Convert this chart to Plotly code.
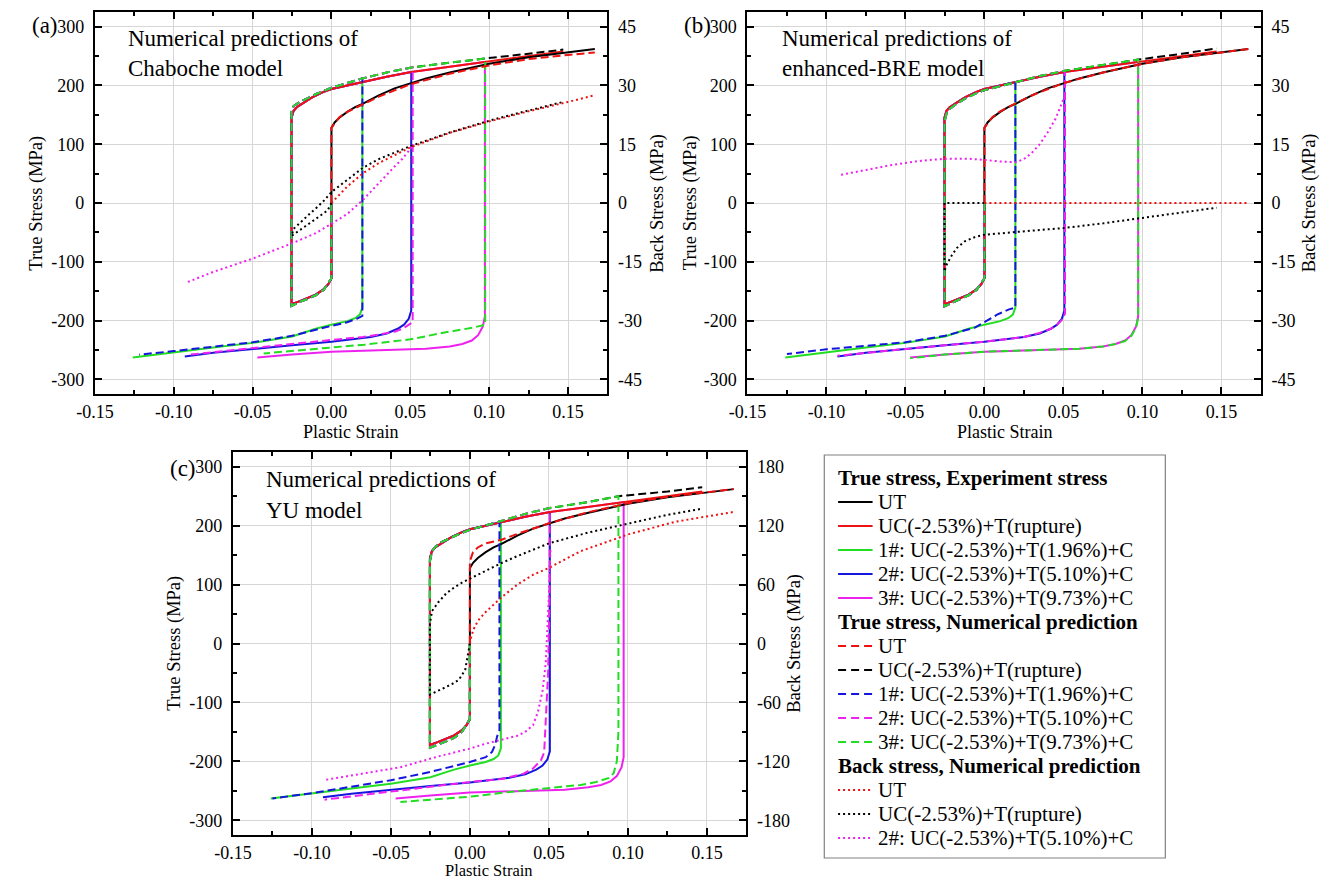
import plotly.graph_objects as go

W, H = 1325, 880
FONT = "Liberation Serif"
RED, GREEN, BLUE, MAGENTA, BLACK = "#ee1111", "#22dd22", "#1515dd", "#ee22ee", "#000000"
DASH, DOT = "8px,4px", "2px,3px"

# ---------------- axis ticks ----------------
X_TICKS = [-0.15, -0.10, -0.05, 0.00, 0.05, 0.10, 0.15]
X_TICK_TEXT = ["-0.15", "-0.10", "-0.05", "0.00", "0.05", "0.10", "0.15"]
X_MINOR = [-0.125, -0.075, -0.025, 0.025, 0.075, 0.125, 0.175]
Y_TICKS = [-300, -200, -100, 0, 100, 200, 300]
Y_TICK_TEXT = ["-300", "-200", "-100", "0", "100", "200", "300"]
Y_MINOR = [-250, -150, -50, 50, 150, 250]
YB_TICKS = [-45, -30, -15, 0, 15, 30, 45]
YB_TICK_TEXT = ["-45", "-30", "-15", "0", "15", "30", "45"]
YB_MINOR = [-37.5, -22.5, -7.5, 7.5, 22.5, 37.5]
YC_TICKS = [-180, -120, -60, 0, 60, 120, 180]
YC_TICK_TEXT = ["-180", "-120", "-60", "0", "60", "120", "180"]
YC_MINOR = [-150, -90, -30, 30, 90, 150]

# ---------------- experiments (same in every panel) ----------------
EXP_UT_X = [0, 0, 0.002, 0.005, 0.01, 0.015, 0.02, 0.03, 0.04, 0.05, 0.06, 0.075, 0.1, 0.125, 0.15, 0.167]
EXP_UT_Y = [0, 128, 137, 145, 155, 163, 169, 183, 195, 204, 212, 222, 237, 248, 256, 262]
EXP_C_X = [0, 0, -0.002, -0.005, -0.01, -0.015, -0.02, -0.0253]
EXP_C_Y = [0, -128, -138, -147, -156, -162, -167, -172]
EXP_T_X = [-0.0253, -0.024, -0.022, -0.018, -0.012, -0.005, 0.0, 0.01, 0.0196, 0.035, 0.0506, 0.075, 0.0973, 0.125, 0.147]
EXP_T_Y = [145, 157, 163, 170, 180, 189, 194, 200, 206, 215, 223, 232, 240, 250, 258]
EXP_R1_X = [0.0196, 0.018, 0.015, 0.01, 0.0, -0.01, -0.025, -0.05, -0.075, -0.1, -0.126]
EXP_R1_Y = [-178, -190, -196, -201, -207, -214, -227, -238, -246, -254, -263]
EXP_R2_X = [0.0506, 0.049, 0.046, 0.042, 0.035, 0.025, 0.01, 0.0, -0.025, -0.05, -0.075, -0.093]
EXP_R2_Y = [-183, -197, -207, -214, -222, -228, -233, -236, -242, -248, -255, -261]
EXP_R3_X = [0.0973, 0.096, 0.093, 0.089, 0.083, 0.075, 0.06, 0.04, 0.0, -0.025, -0.047]
EXP_R3_Y = [-193, -210, -225, -234, -240, -244, -248, -250, -253, -258, -263]

# ---------------- (a) Chaboche predictions ----------------
A_UT_X = [0, 0, 0.005, 0.01, 0.02, 0.03, 0.05, 0.075, 0.1, 0.125, 0.15, 0.167]
A_UT_Y = [0, 128, 146, 155, 168, 181, 202, 220, 234, 245, 252, 256]
A_C_X = [0, 0, -0.005, -0.01, -0.015, -0.02, -0.0253]
A_C_Y = [0, -128, -148, -157, -163, -168, -175]
A_T_X = [-0.0253, -0.024, -0.02, -0.01, 0.0, 0.0196, 0.035, 0.0515, 0.075, 0.0975, 0.125, 0.147]
A_T_Y = [155, 165, 172, 185, 196, 212, 222, 231, 239, 246, 254, 261]
A_R1_X = [0.0196, 0.016, 0.01, 0.0, -0.025, -0.05, -0.075, -0.1, -0.122]
A_R1_Y = [-192, -197, -203, -209, -226, -237, -245, -252, -258]
A_R2_X = [0.0515, 0.045, 0.04, 0.03, 0.02, 0.0, -0.025, -0.05, -0.075, -0.09]
A_R2_Y = [-203, -214, -219, -224, -228, -233, -240, -246, -253, -258]
A_R3_X = [0.0975, 0.09, 0.0725, 0.05, 0.021, 0.0, -0.011, -0.043]
A_R3_Y = [-207, -212, -220, -232, -241, -246, -249, -256]
A_BK_UT_X = [0, 0.005, 0.01, 0.02, 0.03, 0.05, 0.075, 0.1, 0.125, 0.15, 0.167]
A_BK_UT_Y = [0, 2.2, 4.2, 7.6, 10.2, 14.2, 17.9, 20.8, 23.4, 25.8, 27.5]
A_BK_UC_X = [0, -0.0025, -0.0125, -0.0253, -0.024, -0.02, -0.015, -0.01, -0.005, 0.0, 0.01, 0.02, 0.03, 0.05, 0.075, 0.1, 0.125, 0.147]
A_BK_UC_Y = [0, -1.9, -4.8, -8.4, -6.6, -5.0, -3.2, -1.4, 0.5, 2.8, 6.0, 9.0, 11.2, 14.5, 18.0, 21.0, 23.6, 25.8]
A_BK_2_X = [0.051, 0.045, 0.04, 0.035, 0.03, 0.025, 0.02, 0.015, 0.01, 0.0, -0.01, -0.025, -0.05, -0.075, -0.092]
A_BK_2_Y = [14.3, 11.3, 9.3, 7.2, 5.0, 2.9, 0.8, -1.0, -2.8, -5.3, -7.7, -10.3, -14.2, -17.6, -20.3]

# ---------------- (b) enhanced-BRE predictions ----------------
B_UT_X = [0, 0, 0.005, 0.01, 0.02, 0.03, 0.05, 0.075, 0.1, 0.125, 0.15, 0.167]
B_UT_Y = [0, 128, 146, 156, 170, 183, 204, 222, 237, 248, 256, 262]
B_C_X = [0, 0, -0.005, -0.01, -0.015, -0.02, -0.0253]
B_C_Y = [0, -128, -148, -157, -163, -169, -176]
B_T_X = [-0.0253, -0.024, -0.022, -0.018, -0.012, -0.005, 0.0, 0.0196, 0.035, 0.051, 0.075, 0.0973, 0.125, 0.147]
B_T_Y = [138, 152, 160, 168, 178, 187, 192, 206, 216, 225, 235, 244, 254, 263]
B_R1_X = [0.0196, 0.0156, 0.008, 0.0, -0.006, -0.025, -0.05, -0.075, -0.1, -0.125]
B_R1_Y = [-178, -181, -190, -202, -212, -226, -237, -243, -249, -257]
B_R2_X = [0.051, 0.049, 0.046, 0.042, 0.035, 0.025, 0.01, 0.0, -0.025, -0.05, -0.075, -0.093]
B_R2_Y = [-188, -199, -207, -214, -221, -228, -233, -236, -242, -248, -255, -260]
B_R3_X = [0.0973, 0.096, 0.093, 0.089, 0.083, 0.075, 0.06, 0.04, 0.0, -0.025, -0.047]
B_R3_Y = [-195, -212, -226, -235, -240, -244, -248, -250, -253, -258, -264]
B_BK_UT_X = [0, 0.05, 0.1, 0.167]
B_BK_UT_Y = [0, 0, 0, 0]
B_BK_UC_X = [0, -0.0253, -0.0253, -0.024, -0.021, -0.0175, -0.0125, -0.006, 0.0, 0.01, 0.02, 0.05, 0.075, 0.1, 0.125, 0.147]
B_BK_UC_Y = [0, 0, -17.5, -15.8, -13.6, -11.5, -9.8, -8.7, -8.1, -7.7, -7.4, -6.4, -5.2, -3.8, -2.4, -1.2]
B_BK_2_X = [0.051, 0.048, 0.045, 0.04, 0.035, 0.03, 0.025, 0.02, 0.01, 0.0, -0.01, -0.025, -0.04, -0.06, -0.08, -0.092]
B_BK_2_Y = [27.5, 24.5, 21.5, 18.0, 15.0, 12.8, 11.2, 10.4, 10.6, 11.0, 11.3, 11.3, 10.8, 9.6, 8.0, 7.1]

# ---------------- (c) YU predictions ----------------
C_UT_X = [0, 0, 0.002, 0.005, 0.01, 0.02, 0.03, 0.05, 0.075, 0.1, 0.125, 0.15, 0.167]
C_UT_Y = [0, 140, 155, 163, 170, 176, 186, 204, 223, 238, 249, 257, 262]
C_C_X = [0, 0, -0.005, -0.01, -0.015, -0.02, -0.0253]
C_C_Y = [0, -128, -150, -160, -166, -171, -177]
C_T_X = [-0.0253, -0.024, -0.022, -0.018, -0.01, 0.0, 0.0187, 0.035, 0.0505, 0.075, 0.094, 0.125, 0.147]
C_T_Y = [140, 156, 164, 172, 182, 193, 207, 220, 230, 240, 250, 258, 265]
C_R1_X = [0.0187, 0.0172, 0.016, 0.014, 0.01, 0.0, -0.025, -0.05, -0.075, -0.1, -0.125]
C_R1_Y = [-147, -158, -172, -184, -193, -201, -218, -232, -243, -254, -263]
C_R2_X = [0.0505, 0.0495, 0.048, 0.047, 0.045, 0.04, 0.034, 0.02, 0.0, -0.025, -0.05, -0.075, -0.092]
C_R2_Y = [100, -50, -150, -185, -198, -212, -221, -230, -235, -243, -251, -259, -265]
C_R3_X = [0.094, 0.093, 0.091, 0.088, 0.08, 0.07, 0.05, 0.025, 0.0, -0.025, -0.044]
C_R3_Y = [-150, -200, -220, -228, -235, -240, -245, -252, -260, -265, -269]
C_BK_UT_X = [0, 0.001, 0.003, 0.006, 0.01, 0.015, 0.02, 0.03, 0.04, 0.05, 0.07, 0.1, 0.13, 0.167]
C_BK_UT_Y = [0, 8, 17, 25, 32, 40, 47, 60, 70, 77, 94, 111, 124, 134]
C_BK_UC_X = [0, -0.001, -0.003, -0.007, -0.011, -0.016, -0.02, -0.0253, -0.0253, -0.024, -0.02, -0.015, -0.01, -0.005, 0.0, 0.01, 0.02, 0.03, 0.05, 0.075, 0.1, 0.125, 0.146]
C_BK_UC_Y = [0, -10, -27, -37, -41, -45, -48, -52, 20, 33, 42, 51, 57, 62, 66, 74, 82, 89, 102, 113, 122, 131, 137]
C_BK_2_X = [0.051, 0.0505, 0.05, 0.049, 0.048, 0.046, 0.043, 0.04, 0.035, 0.03, 0.02, 0.01, 0.0, -0.02, -0.044, -0.07, -0.092]
C_BK_2_Y = [95, 80, 50, 10, -20, -48, -70, -83, -90, -94, -98, -102, -107, -115, -126, -133, -139]

# ---------------- layout geometry (pixels) ----------------
PANELS = {
    "a": dict(x=(77, 597), y=(12, 394), xa="x", ya="y", yb="y2"),
    "b": dict(x=(739, 1260), y=(12, 394), xa="x2", ya="y3", yb="y4"),
    "c": dict(x=(217, 738), y=(452, 835), xa="x3", ya="y5", yb="y6"),
}


def px(v):
    return v / W


def py(v):
    return 1 - v / H


def path(cx, cy, tx, ty, xu, rx, ry):
    X, Y = list(cx), list(cy)
    for a, b in zip(tx, ty):
        if a <= xu + 1e-9:
            X.append(a)
            Y.append(b)
    return X + list(rx), Y + list(ry)


fig = go.Figure()


def add(x, y, color, dash, xa, ya, width=2.0):
    fig.add_trace(go.Scatter(x=x, y=y, mode="lines", showlegend=False, hoverinfo="skip",
                             line=dict(color=color, width=width, dash=dash),
                             xaxis=xa, yaxis=ya))


PRED = {
    "a": (A_UT_X, A_UT_Y, A_C_X, A_C_Y, A_T_X, A_T_Y, A_R1_X, A_R1_Y, A_R2_X, A_R2_Y, A_R3_X, A_R3_Y,
          A_BK_UT_X, A_BK_UT_Y, A_BK_UC_X, A_BK_UC_Y, A_BK_2_X, A_BK_2_Y),
    "b": (B_UT_X, B_UT_Y, B_C_X, B_C_Y, B_T_X, B_T_Y, B_R1_X, B_R1_Y, B_R2_X, B_R2_Y, B_R3_X, B_R3_Y,
          B_BK_UT_X, B_BK_UT_Y, B_BK_UC_X, B_BK_UC_Y, B_BK_2_X, B_BK_2_Y),
    "c": (C_UT_X, C_UT_Y, C_C_X, C_C_Y, C_T_X, C_T_Y, C_R1_X, C_R1_Y, C_R2_X, C_R2_Y, C_R3_X, C_R3_Y,
          C_BK_UT_X, C_BK_UT_Y, C_BK_UC_X, C_BK_UC_Y, C_BK_2_X, C_BK_2_Y),
}

for key, p in PANELS.items():
    xa, ya, yb = p["xa"], p["ya"], p["yb"]
    # experiments
    add(*path(EXP_C_X, EXP_C_Y, EXP_T_X, EXP_T_Y, EXP_R1_X[0], EXP_R1_X, EXP_R1_Y), GREEN, "solid", xa, ya)
    add(*path(EXP_C_X, EXP_C_Y, EXP_T_X, EXP_T_Y, EXP_R2_X[0], EXP_R2_X, EXP_R2_Y), BLUE, "solid", xa, ya)
    add(*path(EXP_C_X, EXP_C_Y, EXP_T_X, EXP_T_Y, EXP_R3_X[0], EXP_R3_X, EXP_R3_Y), MAGENTA, "solid", xa, ya)
    add(EXP_C_X + EXP_T_X, EXP_C_Y + EXP_T_Y, RED, "solid", xa, ya)
    add(EXP_UT_X, EXP_UT_Y, BLACK, "solid", xa, ya)
    (ux, uy, cx, cy, tx, ty, r1x, r1y, r2x, r2y, r3x, r3y,
     bux, buy, bcx, bcy, b2x, b2y) = PRED[key]
    # predictions
    add(cx + tx, cy + ty, BLACK, DASH, xa, ya)
    add(*path(cx, cy, tx, ty, r1x[0], r1x, r1y), BLUE, DASH, xa, ya)
    add(*path(cx, cy, tx, ty, r2x[0], r2x, r2y), MAGENTA, DASH, xa, ya)
    add(*path(cx, cy, tx, ty, r3x[0], r3x, r3y), GREEN, DASH, xa, ya)
    add(ux, uy, RED, DASH, xa, ya)
    # back stress
    add(bcx, bcy, BLACK, DOT, xa, yb, 2)
    add(bux, buy, RED, DOT, xa, yb, 2)
    add(b2x, b2y, MAGENTA, DOT, xa, yb, 2)

TICKFONT = dict(family=FONT, size=18, color="black")


def xaxis(dom, anchor):
    return dict(domain=dom, anchor=anchor, range=[-0.15, 0.175], tickmode="array",
                tickvals=X_TICKS, ticktext=X_TICK_TEXT, ticks="inside", ticklen=7, tickwidth=1.5,
                tickcolor="black", showline=True, linecolor="black", linewidth=2, mirror="ticks",
                showgrid=True, gridcolor="#d6d6d6", gridwidth=1, zeroline=False,
                minor=dict(ticks="inside", ticklen=4, tickwidth=1.5, tickcolor="black",
                           tickvals=X_MINOR, showgrid=False),
                tickfont=TICKFONT, ticklabelstandoff=0, fixedrange=True)


def yaxis(dom, anchor):
    return dict(domain=dom, anchor=anchor, range=[-325, 325], tickmode="array",
                tickvals=Y_TICKS, ticktext=Y_TICK_TEXT, ticks="inside", ticklen=7, tickwidth=1.5,
                tickcolor="black", showline=True, linecolor="black", linewidth=2,
                showgrid=True, gridcolor="#d6d6d6", gridwidth=1, zeroline=False,
                minor=dict(ticks="inside", ticklen=4, tickwidth=1.5, tickcolor="black",
                           tickvals=Y_MINOR, showgrid=False),
                tickfont=TICKFONT, ticklabelstandoff=5, fixedrange=True)


def yback(over, anchor, rng, vals, text, minor):
    return dict(overlaying=over, anchor=anchor, side="right", range=[-rng, rng], tickmode="array",
                tickvals=vals, ticktext=text, ticks="inside", ticklen=7, tickwidth=1.5,
                tickcolor="black", showline=True, linecolor="black", linewidth=2,
                showgrid=False, zeroline=False,
                minor=dict(ticks="inside", ticklen=4, tickwidth=1.5, tickcolor="black",
                           tickvals=minor, showgrid=False),
                tickfont=TICKFONT, ticklabelstandoff=5, fixedrange=True)


pa, pb, pc = PANELS["a"], PANELS["b"], PANELS["c"]


def dx(p):
    return [px(p["x"][0]), px(p["x"][1])]


def dy(p):
    return [py(p["y"][1]), py(p["y"][0])]


fig.update_layout(
    width=W, height=H, margin=dict(l=0, r=0, t=0, b=0),
    paper_bgcolor="white", plot_bgcolor="white", showlegend=False,
    font=dict(family=FONT, color="black"),
    xaxis=xaxis(dx(pa), "y"), yaxis=yaxis(dy(pa), "x"),
    yaxis2=yback("y", "x", 48.75, YB_TICKS, YB_TICK_TEXT, YB_MINOR),
    xaxis2=xaxis(dx(pb), "y3"), yaxis3=yaxis(dy(pb), "x2"),
    yaxis4=yback("y3", "x2", 48.75, YB_TICKS, YB_TICK_TEXT, YB_MINOR),
    xaxis3=xaxis(dx(pc), "y5"), yaxis5=yaxis(dy(pc), "x3"),
    yaxis6=yback("y5", "x3", 195, YC_TICKS, YC_TICK_TEXT, YC_MINOR),
)

ann = []


def text(x, y, s, size, xanchor="left", angle=0):
    ann.append(dict(x=px(x), y=py(y), xref="paper", yref="paper", text=s, showarrow=False,
                    xanchor=xanchor, yanchor="middle", textangle=angle,
                    font=dict(family=FONT, size=size, color="black")))


# panel labels and titles
text(11, 25, "(a)", 23)
text(109, 39, "Numerical predictions of", 23)
text(109, 69, "Chaboche model", 23)
text(673, 25, "(b)", 23)
text(772, 39, "Numerical predictions of", 23)
text(772, 69, "enhanced-BRE model", 23)
text(151, 468, "(c)", 23)
text(249, 480, "Numerical predictions of", 23)
text(249, 510, "YU model", 23)

# axis titles
text(337, 432, "Plastic Strain", 18, "center")
text(1000, 432, "Plastic Strain", 18, "center")
text(477, 870, "Plastic Strain", 16.5, "center")
text(17, 203, "True Stress (MPa)", 18.5, "center", -90)
text(647, 203, "Back Stress (MPa)", 18.5, "center", -90)
text(681, 203, "True Stress (MPa)", 18.5, "center", -90)
text(1309, 203, "Back Stress (MPa)", 18.5, "center", -90)
text(157, 643, "True Stress (MPa)", 18.5, "center", -90)
text(786, 643, "Back Stress (MPa)", 18.5, "center", -90)

# legend
LEG_ROWS = [
    ("h", None, "True stress, Experiment stress"),
    ("solid", BLACK, "UT"),
    ("solid", RED, "UC(-2.53%)+T(rupture)"),
    ("solid", GREEN, "1#: UC(-2.53%)+T(1.96%)+C"),
    ("solid", BLUE, "2#: UC(-2.53%)+T(5.10%)+C"),
    ("solid", MAGENTA, "3#: UC(-2.53%)+T(9.73%)+C"),
    ("h", None, "True stress, Numerical prediction"),
    ("8px,5px", RED, "UT"),
    ("8px,5px", BLACK, "UC(-2.53%)+T(rupture)"),
    ("8px,5px", BLUE, "1#: UC(-2.53%)+T(1.96%)+C"),
    ("8px,5px", MAGENTA, "2#: UC(-2.53%)+T(5.10%)+C"),
    ("8px,5px", GREEN, "3#: UC(-2.53%)+T(9.73%)+C"),
    ("h", None, "Back stress, Numerical prediction"),
    ("2px,3px", RED, "UT"),
    ("2px,3px", BLACK, "UC(-2.53%)+T(rupture)"),
    ("2px,3px", MAGENTA, "2#: UC(-2.53%)+T(5.10%)+C"),
]
shapes = [dict(type="rect", xref="paper", yref="paper", x0=px(817), x1=px(1163), y0=py(858), y1=py(455),
               line=dict(color="#808080", width=1.2), fillcolor="white", layer="below")]
for i, (kind, col, label) in enumerate(LEG_ROWS):
    yy = 478 + 24 * i
    if kind == "h":
        text(829, yy, "<b>" + label + "</b>", 21)
    else:
        shapes.append(dict(type="line", xref="paper", yref="paper", x0=px(831), x1=px(866),
                           y0=py(yy), y1=py(yy), line=dict(color=col, width=2, dash=kind)))
        text(869, yy, label, 21)

fig.update_layout(annotations=ann, shapes=shapes)
fig.write_html("out.html")
